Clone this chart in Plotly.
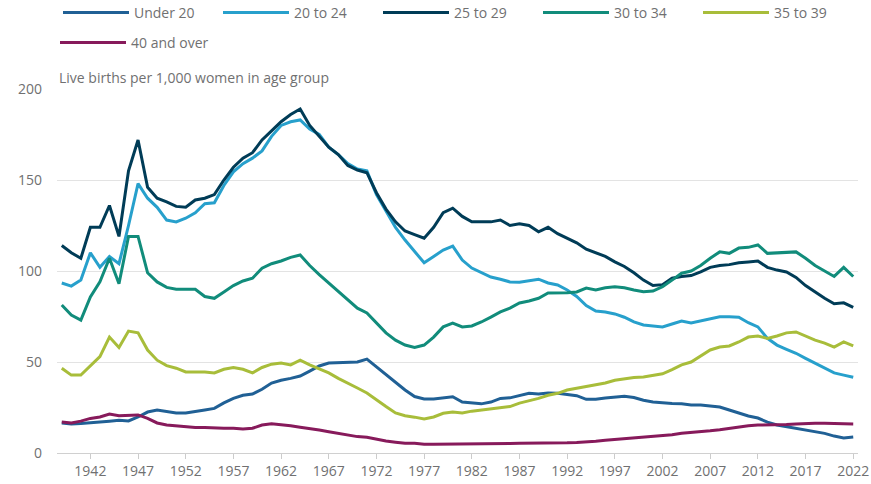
import plotly.graph_objects as go

years = list(range(1939, 2023))

under_20 = [16.5, 16.0, 16.2,
            16.5, 17.0, 17.5, 18.0, 17.6, 19.8, 22.5, 23.6, 23.0, 22.0,
            22.0, 23.0, 23.6, 24.5, 27.5, 30.0, 31.7, 32.4, 35.0, 38.4,
            40.0, 41.0, 42.3, 45.0, 47.8, 49.4, 49.6, 50.0, 50.0, 51.6,
            47.4, 42.8, 38.6, 34.6, 31.0, 29.7, 29.7, 30.3, 30.9, 28.0,
            27.5, 27.0, 28.0, 30.0, 30.3, 31.7, 32.8, 32.4, 33.0, 32.8,
            32.0, 31.5, 29.5, 29.5, 30.2, 30.8, 31.2, 30.5, 29.0, 28.0,
            27.4, 27.2, 27.0, 26.4, 26.4, 25.8, 25.3, 23.6, 21.8, 20.3,
            19.2, 17.0, 15.4, 14.5, 13.7, 12.6, 11.7, 10.8, 9.3, 8.3,
            8.8]

age_20_24 = [93.4, 91.7, 95.0,
             110, 102, 108, 104, 125, 148, 140, 135, 128, 127,
             129, 132, 137, 137.5, 147, 154.5, 159, 162, 166, 174,
             180, 182, 183, 178, 175, 168, 164, 159, 156, 155,
             142, 133, 124, 117, 110.5, 104.5, 108, 111.5, 113.7, 106,
             101.6, 99, 96.7, 95.5, 94, 93.8, 94.5, 95.5, 93.4, 92.3,
             89.6, 86, 81, 78, 77.5, 76.4, 74.6, 72, 70.3, 69.8,
             69.3, 70.9, 72.5, 71.4, 72.5, 73.6, 74.8, 74.8, 74.6, 71.6,
             69.3, 63, 59.3, 57, 54.8, 52, 49.2, 46.5, 44, 42.8,
             41.6]

age_25_29 = [114, 110, 107,
             124, 124, 136, 119, 155, 172, 146, 140, 138, 135.5,
             135, 139, 140, 142, 150, 157, 162, 165, 172, 177,
             182, 186, 189, 180, 174, 168, 164, 158, 155.5, 154,
             143, 134, 127, 122, 120, 118, 124, 132, 134.5, 130,
             127, 127, 127, 128, 125, 126, 125, 121.5, 124, 120.5,
             118, 115.5, 112, 110, 108, 105, 102.5, 99, 95, 92,
             92.5, 96, 97, 97.5, 99.5, 102, 103, 103.5, 104.5, 105,
             105.5, 102, 100.5, 99.5, 96.5, 92, 88.5, 85, 82, 82.5,
             80]

age_30_34 = [81.3, 75.8, 73,
             85.7, 94, 107, 93, 119, 119, 99, 94, 91, 90,
             90, 90, 86, 85, 88.5, 92, 94.5, 96, 101.5, 104,
             105.5, 107.5, 108.8, 103, 98, 93.4, 88.6, 84, 79.6, 77,
             71.4, 66, 62, 59.3, 58, 59.3, 63.7, 69.3, 71.4, 69.3,
             69.8, 72, 74.7, 77.5, 79.6, 82.4, 83.5, 85, 87.9, 87.9,
             88, 88.5, 90.6, 89.6, 90.8, 91.4, 90.8, 89.6, 88.6, 89,
             91.4, 95, 98.8, 100, 103, 107, 110.5, 109.7, 112.6, 113,
             114.3, 109.7, 110, 110.5, 110.5, 107, 103, 100, 97, 102,
             97]

age_35_39 = [46.6, 42.8, 42.8,
             48, 53, 63.7, 58, 67, 66, 56.6, 51, 48, 46.6,
             44.5, 44.5, 44.5, 44, 46, 47, 46, 44, 47, 48.8,
             49.4, 48.4, 51, 48.4, 46, 44, 41, 38.5, 35.7, 33,
             29, 25.5, 22, 20.5, 19.7, 18.7, 19.8, 21.8, 22.5, 22,
             23, 23.6, 24, 24.5, 25.5, 27.4, 28.6, 30, 31.7, 32.8,
             34.6, 35.5, 36.5, 37.5, 38.5, 40, 40.8, 41.5, 41.8, 42.5,
             43.5, 45.8, 48.4, 50, 53.3, 56.6, 58.2, 58.8, 61, 63.7,
             64.3, 63, 64.3, 66, 66.5, 64.3, 62, 60.4, 58.2, 61,
             58.8]

age_40_over = [17, 16.5, 17.5,
               19, 19.8, 21.4, 20.5, 20.9, 20.9, 19, 16.5, 15.4, 14.8,
               14.3, 14, 14, 13.6, 13.6, 13.6, 13.2, 13.6, 15.4, 16,
               15.6, 15, 14.2, 13.6, 12.6, 11.7, 10.8, 9.9, 9, 8.6,
               7.5, 6.6, 5.9, 5.3, 5.3, 4.8, 4.8, 4.8, 4.9, 4.9,
               4.9, 5.0, 5.0, 5.1, 5.2, 5.3, 5.3, 5.3, 5.3, 5.4,
               5.6, 5.8, 6.0, 6.5, 7.0, 7.4, 8.0, 8.3, 8.6, 9.0,
               9.3, 10.0, 10.8, 11.2, 11.7, 12.2, 12.8, 13.6, 14.5, 15.0,
               15.4, 15.4, 15.4, 15.6, 16.0, 16.3, 16.3, 16.3, 16.2, 16.0,
               16.0]

series_names = ["Under 20", "20 to 24", "25 to 29", "30 to 34", "35 to 39", "40 and over"]
series_values = [under_20, age_20_24, age_25_29, age_30_34, age_35_39, age_40_over]
series_colors = ["#206095", "#27a0cc", "#003c57", "#118c7b", "#a8bd3a", "#871a5b"]

x_tick_vals = list(range(1942, 2023, 5))
y_tick_vals = [0, 50, 100, 150, 200]

FONT = "Open Sans"
GREY = "#707071"

fig = go.Figure()
for i, (name, vals, col) in enumerate(zip(series_names, series_values, series_colors)):
    fig.add_trace(go.Scatter(
        x=years, y=vals, name=name, mode="lines",
        line=dict(color=col, width=3),
        legend="legend2" if i == 5 else "legend",
    ))

fig.update_layout(
    width=871, height=484,
    margin=dict(l=57, r=13, t=89, b=31, autoexpand=False),
    plot_bgcolor="white", paper_bgcolor="white",
    font=dict(family=FONT, size=14, color=GREY),
    showlegend=True,
    legend=dict(orientation="h", xref="container", yref="container",
                x=58 / 871, y=1 - 13 / 484, xanchor="left", yanchor="middle",
                itemwidth=66, entrywidth=79, font=dict(size=14, color=GREY),
                bgcolor="rgba(0,0,0,0)"),
    legend2=dict(orientation="h", xref="container", yref="container",
                 x=55 / 871, y=1 - 43 / 484, xanchor="left", yanchor="middle",
                 itemwidth=66, font=dict(size=14, color=GREY),
                 bgcolor="rgba(0,0,0,0)"),
    xaxis=dict(range=[1938.5, 2022.5], tickvals=x_tick_vals, automargin=False,
               showgrid=False, zeroline=False, showline=False,
               ticks="outside", ticklen=5, tickcolor="#cccccc",
               tickfont=dict(size=14, color=GREY)),
    yaxis=dict(range=[0, 200], tickvals=y_tick_vals, automargin=False,
               showgrid=True, gridcolor="#e3e3e3", gridwidth=1,
               zeroline=True, zerolinecolor="#d0d0d0", zerolinewidth=1,
               showline=False, ticks="", ticklabelstandoff=14,
               tickfont=dict(size=14, color=GREY)),
    annotations=[dict(text="Live births per 1,000 women in age group",
                      xref="paper", yref="paper", x=0, y=1,
                      xanchor="left", yanchor="bottom", showarrow=False,
                      font=dict(size=14, color=GREY))],
)

fig.write_html("out.html", config={"displayModeBar": False},
               post_script="document.body.style.margin='0';")
